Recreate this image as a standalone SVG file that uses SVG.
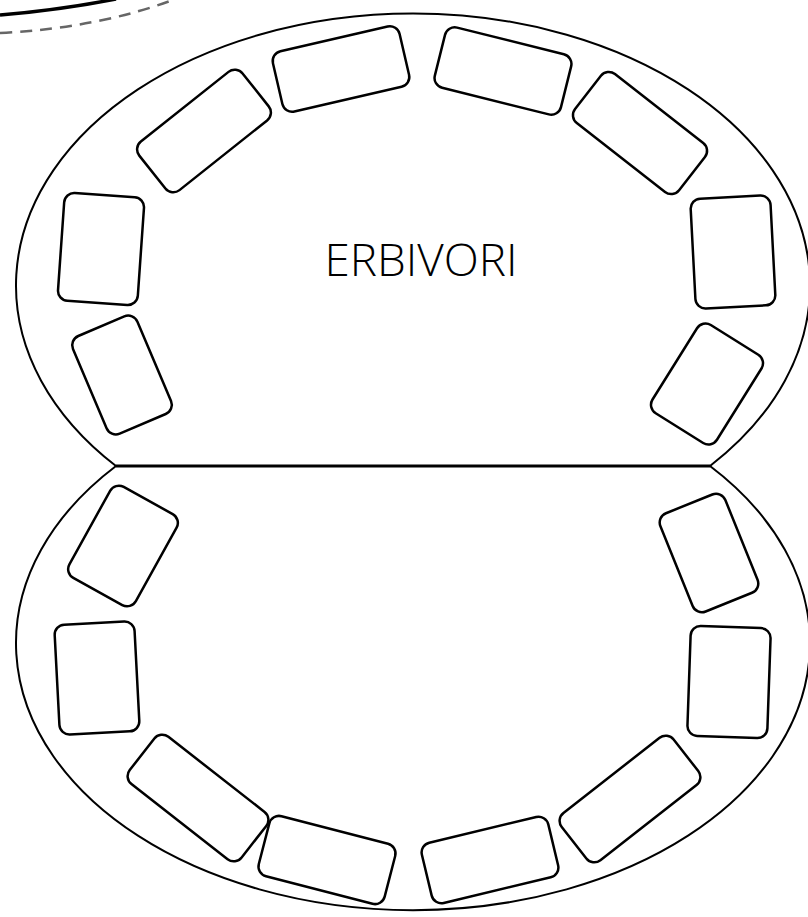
<svg xmlns="http://www.w3.org/2000/svg" width="808" height="917" viewBox="0 0 808 917">
<style>
.outline{fill:none;stroke:#000;stroke-width:2}
.tooth{fill:#fff;stroke:#000;stroke-width:2.5}
.label{font-family:"Open Sans","Liberation Sans",sans-serif;font-weight:300;font-size:44px;fill:#000}
</style>
<rect width="808" height="917" fill="#fff"/>
<g id="decor">
<path d="M0,15 Q60,10 116,-1" fill="none" stroke="#000" stroke-width="3.5"/>
<path d="M0,33 Q100,28 178,-2" fill="none" stroke="#666" stroke-width="2.5" stroke-dasharray="12,8"/>
</g>
<g id="mouth">
<path class="outline" d="M116,466 A397,272 0 1 1 710,466"/>
<path class="outline" d="M116,466 A397,267 0 1 0 710,466"/>
<line x1="116" y1="466" x2="710" y2="466" stroke="#000" stroke-width="3"/>
</g>
<g id="upper-teeth">
<rect id="u1" class="tooth" x="-65" y="-31" width="130" height="62" rx="10" transform="translate(341,69) rotate(-13)"/>
<rect id="u2" class="tooth" x="-66" y="-31" width="132" height="62" rx="10" transform="translate(204,131) rotate(-38.5)"/>
<rect id="u3" class="tooth" x="-65" y="-31" width="130" height="62" rx="10" transform="translate(503,71) rotate(14)"/>
<rect id="u4" class="tooth" x="-66" y="-31" width="132" height="62" rx="10" transform="translate(640,133) rotate(38)"/>
<rect id="u5" class="tooth" x="-40" y="-54" width="80" height="108" rx="10" transform="translate(101,249) rotate(4)"/>
<rect id="u6" class="tooth" x="-35" y="-53" width="70" height="106" rx="10" transform="translate(122,375) rotate(-23)"/>
<rect id="u7" class="tooth" x="-40" y="-55" width="80" height="110" rx="10" transform="translate(733,252) rotate(-3)"/>
<rect id="u8" class="tooth" x="-38" y="-52" width="76" height="104" rx="10" transform="translate(707,384) rotate(32)"/>
</g>
<g id="lower-teeth">
<rect id="l1" class="tooth" x="-38" y="-52" width="76" height="104" rx="10" transform="translate(123,546) rotate(29)"/>
<rect id="l2" class="tooth" x="-40" y="-55" width="80" height="110" rx="10" transform="translate(97,678) rotate(-3)"/>
<rect id="l3" class="tooth" x="-35" y="-53" width="70" height="106" rx="10" transform="translate(709,553) rotate(-22)"/>
<rect id="l4" class="tooth" x="-40" y="-55" width="80" height="110" rx="10" transform="translate(729,682) rotate(2)"/>
<rect id="l5" class="tooth" x="-71" y="-30" width="142" height="60" rx="10" transform="translate(198,798) rotate(38)"/>
<rect id="l6" class="tooth" x="-65" y="-31" width="130" height="62" rx="10" transform="translate(327,860) rotate(14.5)"/>
<rect id="l7" class="tooth" x="-65" y="-31" width="130" height="62" rx="10" transform="translate(490,860) rotate(-13.5)"/>
<rect id="l8" class="tooth" x="-71" y="-30" width="142" height="60" rx="10" transform="translate(630,799) rotate(-38)"/>
</g>
<g id="title">
<text class="label" x="421" y="276" text-anchor="middle" textLength="193" lengthAdjust="spacingAndGlyphs">ERBIVORI</text>
</g>
</svg>
